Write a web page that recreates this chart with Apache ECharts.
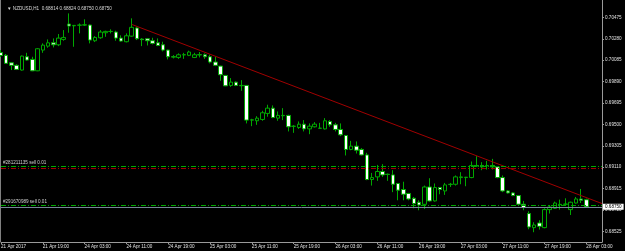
<!DOCTYPE html>
<html>
<head>
<meta charset="utf-8">
<script src="https://cdn.jsdelivr.net/npm/echarts@6/dist/echarts.min.js"></script>
<style>
  html, body { margin: 0; padding: 0; background: #000; }
  #chart { width: 625px; height: 251px; }
</style>
</head>
<body>
<div id="chart"></div>
<script>
// NZDUSD H1, 21 Apr 11:00 .. 28 Apr 03:00 (one value per bar)
var open = [
  0.70154,0.70129,0.70061,0.70038,0.69995,0.70116,0.70092,0.69988,0.70177,0.70213,
  0.70243,0.70225,0.70274,0.70414,0.70398,0.70403,0.70405,0.70405,0.70262,0.70289,
  0.70335,0.70346,0.70341,0.70286,0.70253,0.70304,0.70378,0.70277,0.70280,0.70262,
  0.70243,0.70225,0.70177,0.70116,0.70110,0.70133,0.70129,0.70110,0.70135,0.70134,
  0.70116,0.70068,0.70031,0.69946,0.69855,0.69885,0.69855,0.69855,0.69539,0.69533,
  0.69545,0.69600,0.69648,0.69557,0.69582,0.69582,0.69482,0.69472,0.69502,0.69459,
  0.69478,0.69464,0.69459,0.69527,0.69496,0.69454,0.69399,0.69272,0.69302,0.69272,
  0.69222,0.68998,0.69022,0.69071,0.69046,0.69040,0.68962,0.68907,0.68871,0.68827,
  0.68791,0.68772,0.68930,0.68803,0.68925,0.68894,0.68952,0.68955,0.69016,0.69016,
  0.69016,0.69126,0.69126,0.69124,0.69126,0.69113,0.69016,0.68894,0.68876,0.68852,
  0.68773,0.68688,0.68560,0.68602,0.68560,0.68724,0.68736,0.68772,0.68772,0.68724,
  0.68784,0.68821,0.68814
];
var close = [
  0.70127,0.70056,0.70038,0.70001,0.70122,0.70086,0.69988,0.70189,0.70222,0.70243,
  0.70225,0.70286,0.70292,0.70396,0.70402,0.70405,0.70407,0.70268,0.70292,0.70341,
  0.70347,0.70347,0.70286,0.70259,0.70307,0.70384,0.70280,0.70272,0.70262,0.70238,
  0.70219,0.70177,0.70116,0.70113,0.70134,0.70135,0.70159,0.70134,0.70133,0.70116,
  0.70068,0.70038,0.69952,0.69851,0.69885,0.69855,0.69852,0.69539,0.69542,0.69557,
  0.69606,0.69648,0.69563,0.69582,0.69579,0.69478,0.69484,0.69502,0.69459,0.69484,
  0.69502,0.69466,0.69533,0.69496,0.69454,0.69405,0.69272,0.69302,0.69265,0.69222,
  0.68998,0.69016,0.69071,0.69040,0.69044,0.68955,0.68901,0.68864,0.68821,0.68779,
  0.68766,0.68930,0.68803,0.68925,0.68907,0.68949,0.68955,0.69022,0.69022,0.69019,
  0.69126,0.69122,0.69113,0.69126,0.69113,0.69016,0.68894,0.68876,0.68852,0.68773,
  0.68743,0.68566,0.68584,0.68572,0.68724,0.68748,0.68784,0.68770,0.68775,0.68791,
  0.68821,0.68809,0.68750
];
var low = [
  0.70113,0.70050,0.69995,0.69995,0.69990,0.70081,0.69985,0.69985,0.70152,0.70198,
  0.70201,0.70213,0.70262,0.70335,0.70207,0.70329,0.70396,0.70238,0.70250,0.70280,
  0.70298,0.70329,0.70262,0.70253,0.70247,0.70298,0.70268,0.70213,0.70219,0.70229,
  0.70213,0.70165,0.70092,0.70101,0.70097,0.70097,0.70122,0.70104,0.70110,0.70097,
  0.70056,0.70031,0.69897,0.69849,0.69842,0.69849,0.69806,0.69509,0.69484,0.69496,
  0.69533,0.69570,0.69557,0.69533,0.69539,0.69436,0.69423,0.69459,0.69436,0.69411,
  0.69472,0.69459,0.69454,0.69478,0.69436,0.69393,0.69217,0.69265,0.69235,0.69217,
  0.68992,0.68943,0.68986,0.69022,0.68986,0.68883,0.68809,0.68809,0.68809,0.68736,
  0.68718,0.68730,0.68797,0.68797,0.68864,0.68858,0.68930,0.68943,0.68955,0.68937,
  0.69010,0.69113,0.69083,0.69089,0.69089,0.69010,0.68883,0.68870,0.68846,0.68766,
  0.68718,0.68545,0.68518,0.68542,0.68554,0.68688,0.68730,0.68724,0.68761,0.68675,
  0.68779,0.68784,0.68750
];
var high = [
  0.70177,0.70141,0.70068,0.70047,0.70127,0.70152,0.70116,0.70195,0.70238,0.70274,
  0.70283,0.70323,0.70359,0.70511,0.70405,0.70420,0.70457,0.70409,0.70304,0.70359,
  0.70353,0.70366,0.70353,0.70311,0.70329,0.70466,0.70390,0.70286,0.70286,0.70289,
  0.70283,0.70253,0.70180,0.70131,0.70147,0.70152,0.70171,0.70152,0.70159,0.70147,
  0.70134,0.70116,0.70034,0.69949,0.69922,0.69891,0.69903,0.69858,0.69551,0.69575,
  0.69624,0.69679,0.69673,0.69618,0.69648,0.69588,0.69493,0.69527,0.69539,0.69509,
  0.69521,0.69514,0.69557,0.69539,0.69514,0.69509,0.69402,0.69350,0.69345,0.69284,
  0.69241,0.69058,0.69131,0.69138,0.69053,0.69083,0.68965,0.68978,0.68876,0.68839,
  0.68809,0.68943,0.69010,0.68962,0.68930,0.68967,0.68967,0.69035,0.69065,0.69022,
  0.69162,0.69211,0.69156,0.69168,0.69186,0.69115,0.69035,0.68901,0.68883,0.68855,
  0.68803,0.68709,0.68609,0.68627,0.68736,0.68766,0.68797,0.68815,0.68827,0.68797,
  0.68839,0.68912,0.68824
];

// axis labels
var timeLabels = ['21 Apr 2017','21 Apr 19:00','24 Apr 03:00','24 Apr 11:00','24 Apr 19:00',
  '25 Apr 03:00','25 Apr 11:00','25 Apr 19:00','26 Apr 03:00','26 Apr 11:00','26 Apr 19:00',
  '27 Apr 03:00','27 Apr 11:00','27 Apr 19:00','28 Apr 03:00'];
var priceTicks = [0.68525,0.68720,0.68915,0.69110,0.69305,0.69500,0.69695,0.69890,0.70085,0.70280,0.70475];

// trend line anchors [bar index, price], order lines, bid
var trendLine = [[25, 0.70411], [115, 0.68779]];
var orders = [
  { name: '#281211135 sell 0.01', price: 0.69117, sl: 0.69104 },
  { name: '#291670989 sell 0.01', price: 0.68761 }
];
var bid = 0.68750;
var header = 'NZDUSD,H1  0.68814 0.68824 0.68750 0.68750';

var GREEN = '#00a800';
var FONT = 'Liberation Sans';

var candles = [];
for (var i = 0; i < open.length; i++) {
  candles.push([open[i], close[i], low[i], high[i]]);
}
var cats = [];
for (var j = 0; j < open.length + 3; j++) cats.push(j);

var lines = [];
orders.forEach(function (o) {
  lines.push({
    yAxis: o.price,
    lineStyle: { color: GREEN, type: [5, 2, 1, 2], width: 1 },
    label: {
      show: true, position: 'insideStartTop', formatter: o.name, distance: [2, 1],
      color: '#d0d0d0', fontSize: 4.6, fontFamily: FONT
    }
  });
  if (o.sl) {
    lines.push({
      yAxis: o.sl,
      lineStyle: { color: '#a00000', type: [5, 2, 1, 2], width: 1 },
      label: { show: false }
    });
  }
});
lines.push({
  yAxis: bid,
  lineStyle: { color: '#778899', type: 'solid', width: 1 },
  label: {
    show: true, position: 'end', distance: 1, formatter: bid.toFixed(5),
    color: '#000', backgroundColor: '#fff', padding: [1, 2, 0, 2],
    fontSize: 4.6, fontFamily: FONT
  }
});

var myChart = echarts.init(document.getElementById('chart'));
var option = {
  backgroundColor: '#000',
  animation: false,
  title: {
    text: '\u25BC ' + header,
    left: 2, top: 1,
    textStyle: { color: '#d8d8d8', fontSize: 4.6, fontWeight: 'normal', fontFamily: FONT }
  },
  grid: { left: 1, right: 23, top: 0, bottom: 9, containLabel: false, outerBoundsMode: 'none' },
  xAxis: {
    type: 'category',
    data: cats,
    boundaryGap: false,
    axisLine: { lineStyle: { color: '#9a9a9a', width: 1 } },
    axisTick: { show: true, interval: 7, length: 2, lineStyle: { color: '#9a9a9a' } },
    axisLabel: {
      interval: 7, margin: 2, align: 'left', color: '#e0e0e0',
      fontSize: 4.6, fontFamily: FONT,
      formatter: function (v, idx) { return timeLabels[idx / 8] || ''; }
    },
    splitLine: { show: false }
  },
  yAxis: {
    type: 'value',
    position: 'right',
    min: 0.68429,
    max: 0.70633,
    axisLine: { show: true, lineStyle: { color: '#9a9a9a', width: 1 } },
    axisTick: { show: true, length: 2, customValues: priceTicks, lineStyle: { color: '#9a9a9a' } },
    axisLabel: {
      customValues: priceTicks, margin: 3, color: '#e0e0e0',
      fontSize: 4.6, fontFamily: FONT,
      formatter: function (v) { return v.toFixed(5); }
    },
    splitLine: { show: false }
  },
  graphic: [{
    type: 'line', shape: { x1: 0.5, y1: 0, x2: 0.5, y2: 242 },
    style: { stroke: '#808080', lineWidth: 1 }
  }],
  series: [
    {
      type: 'candlestick',
      data: candles,
      barWidth: 4,
      itemStyle: {
        color: '#000', color0: '#fff',
        borderColor: GREEN, borderColor0: GREEN, borderColorDoji: GREEN,
        borderWidth: 1
      }
    },
    {
      type: 'line',
      data: trendLine,
      symbol: 'none',
      lineStyle: { color: '#a00000', width: 1 },
      silent: true,
      markLine: { symbol: 'none', precision: 5, silent: true, animation: false, data: lines }
    }
  ]
};
myChart.setOption(option);
</script>
</body>
</html>
